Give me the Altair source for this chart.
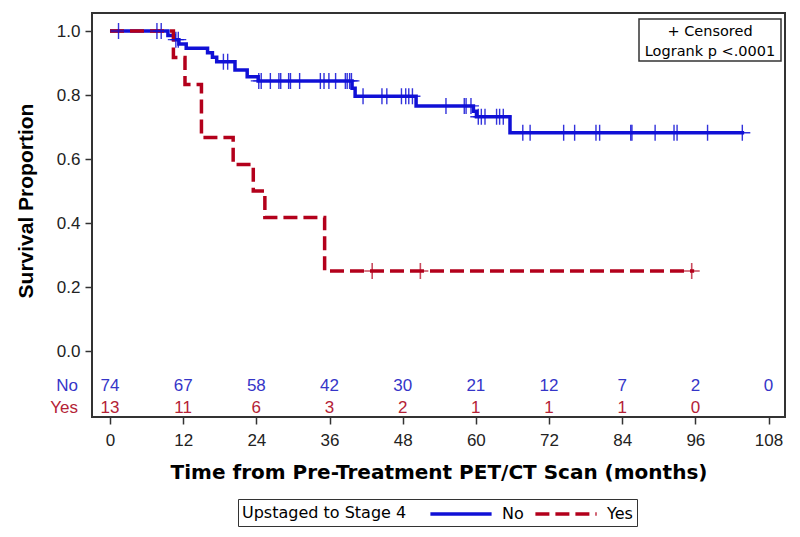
import altair as alt
import pandas as pd

# Kaplan-Meier step points (month, survival proportion)
no_times = [0, 9.5, 10.5, 11.3, 12.5, 16.0, 16.8, 17.5, 20.5, 22.5, 24.3, 39.7, 40.2, 50.2, 59.6, 60.1, 65.6, 104.0]
no_surv = [1.0, 0.986, 0.973, 0.959, 0.946, 0.932, 0.918, 0.904, 0.878, 0.857, 0.844, 0.821, 0.796, 0.766, 0.749, 0.732, 0.682, 0.682]
yes_times = [0, 10.4, 12.3, 15.0, 20.2, 23.5, 25.4, 35.2, 95.8]
yes_surv = [1.0, 0.917, 0.833, 0.667, 0.583, 0.5, 0.417, 0.25, 0.25]

# Censoring times
no_censor = [1.4, 7.7, 8.4, 10.8, 11.2, 18.6, 19.3, 24.4, 24.8, 26.3, 27.7, 28.0, 29.3, 29.6, 31.1,
             34.5, 35.1, 35.9, 37.0, 38.6, 38.9, 39.3, 39.6, 41.5, 44.6, 45.4, 47.8, 48.5, 49.0, 49.6,
             55.1, 58.1, 58.4, 59.2, 60.4, 60.9, 61.5, 63.4, 63.9, 64.5, 67.7, 68.9, 74.4, 76.2, 79.7,
             80.3, 85.4, 85.6, 89.4, 92.5, 93.0, 98.0, 103.7]
yes_censor = [43.0, 50.9, 95.4]

# Number at risk
risk_months_no = [0, 12, 24, 36, 48, 60, 72, 84, 96, 108]
risk_no = [74, 67, 58, 42, 30, 21, 12, 7, 2, 0]
risk_months_yes = [0, 12, 24, 36, 48, 60, 72, 84, 96]
risk_yes = [13, 11, 6, 3, 2, 1, 1, 1, 0]

groups = ["No", "Yes"]
line_colors = ["#1010d6", "#b3001b"]
text_colors = ["#3535c8", "#b42236"]


def surv_at(times, surv, t):
    v = surv[0]
    for ti, si in zip(times, surv):
        if ti <= t:
            v = si
    return v


lines = pd.DataFrame(
    [{"group": "No", "time": t, "surv": s} for t, s in zip(no_times, no_surv)]
    + [{"group": "Yes", "time": t, "surv": s} for t, s in zip(yes_times, yes_surv)]
)
cens_no = pd.DataFrame({"time": no_censor, "surv": [surv_at(no_times, no_surv, t) for t in no_censor]})
cens_yes = pd.DataFrame({"time": yes_censor, "surv": [surv_at(yes_times, yes_surv, t) for t in yes_censor]})

ROW_NO = -0.109
ROW_YES = -0.178
risk_no_df = pd.DataFrame({"time": risk_months_no, "n": [str(v) for v in risk_no], "row": ROW_NO})
risk_yes_df = pd.DataFrame({"time": risk_months_yes, "n": [str(v) for v in risk_yes], "row": ROW_YES})

xscale = alt.Scale(domain=[-2.95, 110.7], nice=False, zero=False)
yscale = alt.Scale(domain=[-0.20625, 1.05625], nice=False, zero=False)

X = alt.X("time:Q", scale=xscale,
          axis=alt.Axis(values=list(range(0, 109, 12)), title="Time from Pre-Treatment PET/CT Scan (months)",
                        titleFont="DejaVu Sans", titleFontSize=20, titleFontWeight="bold", titleColor="black",
                        titleBaseline="alphabetic", titleY=61, labelFont="Liberation Sans", labelFontSize=17,
                        labelColor="#222", labelPadding=8, grid=False, domain=False,
                        tickSize=7, tickWidth=1.5, tickColor="#333"))
Y = alt.Y("surv:Q", scale=yscale,
          axis=alt.Axis(values=[0, 0.2, 0.4, 0.6, 0.8, 1.0], format=".1f", title="Survival Proportion",
                        titleFont="Liberation Sans", titleFontSize=21, titleFontWeight="bold", titleColor="black",
                        titleBaseline="alphabetic", titleX=-60, titleY=187.5, labelFont="Liberation Sans",
                        labelFontSize=17, labelColor="#222", labelPadding=5, grid=False, domain=False,
                        tickSize=7, tickWidth=1.5, tickColor="#333"))

legend = alt.Legend(title="Upstaged to Stage 4", orient="none", legendX=146, legendY=486,
                    direction="horizontal", titleOrient="left", titleFont="DejaVu Sans", titleFontSize=16,
                    titleFontWeight="normal", titleColor="black", titlePadding=43, titleBaseline="middle",
                    labelFont="DejaVu Sans", labelFontSize=16, labelColor="black", labelOffset=30,
                    columnPadding=4, symbolType="M-3.4,0H3.4", symbolSize=324, symbolStrokeWidth=3.5,
                    strokeColor="#333", padding=4, fillColor="white")

curve = alt.Chart(lines).mark_line(interpolate="step-after", strokeWidth=3.5).encode(
    x=X, y=Y,
    color=alt.Color("group:N", scale=alt.Scale(domain=groups, range=line_colors), legend=legend),
    strokeDash=alt.StrokeDash("group:N", scale=alt.Scale(domain=groups, range=[[1, 0], [14, 6]]), legend=legend),
)

plus = "M0,-1V1M-1,0H1"
cn = alt.Chart(cens_no).mark_point(shape=plus, size=256, filled=False, strokeWidth=1.4, color=line_colors[0], opacity=0.85).encode(
    x="time:Q", y="surv:Q")
cy = alt.Chart(cens_yes).mark_point(shape=plus, size=256, filled=False, strokeWidth=1.6, color=line_colors[1]).encode(
    x="time:Q", y="surv:Q")

rn = alt.Chart(risk_no_df).mark_text(font="Liberation Sans", fontSize=17, baseline="middle", color=text_colors[0]).encode(
    x="time:Q", y="row:Q", text="n:N")
ry = alt.Chart(risk_yes_df).mark_text(font="Liberation Sans", fontSize=17, baseline="middle", color=text_colors[1]).encode(
    x="time:Q", y="row:Q", text="n:N")

row_labels = pd.DataFrame({"label": groups, "row": [ROW_NO, ROW_YES]})
lab_no = alt.Chart(row_labels[row_labels.label == "No"]).mark_text(
    font="Liberation Sans", fontSize=17, align="right", baseline="middle", color=text_colors[0]).encode(
    x=alt.value(-14), y="row:Q", text="label:N")
lab_yes = alt.Chart(row_labels[row_labels.label == "Yes"]).mark_text(
    font="Liberation Sans", fontSize=17, align="right", baseline="middle", color=text_colors[1]).encode(
    x=alt.value(-14), y="row:Q", text="label:N")

one = pd.DataFrame({"a": [0]})
box = alt.Chart(one).mark_rect(fill="white", stroke="#333", strokeWidth=1.5).encode(
    x=alt.value(547), x2=alt.value(689), y=alt.value(6), y2=alt.value(48))
t1 = alt.Chart(one).mark_text(text="+ Censored", font="DejaVu Sans", fontSize=14.5, align="center",
                              baseline="alphabetic", color="black").encode(x=alt.value(618), y=alt.value(23))
t2 = alt.Chart(one).mark_text(text="Logrank p <.0001", font="DejaVu Sans", fontSize=14.5, align="center",
                              baseline="alphabetic", color="black").encode(x=alt.value(618), y=alt.value(43))

chart = alt.layer(curve, cn, cy, rn, ry, lab_no, lab_yes, box, t1, t2).properties(
    width=693, height=404,
    autosize=alt.AutoSizeParams(type="none"),
    padding={"left": 84, "top": 5, "right": 7, "bottom": 112},
).configure_view(stroke="#333", strokeWidth=2)

chart.save("out.html", embed_options={"renderer": "svg", "actions": False})
